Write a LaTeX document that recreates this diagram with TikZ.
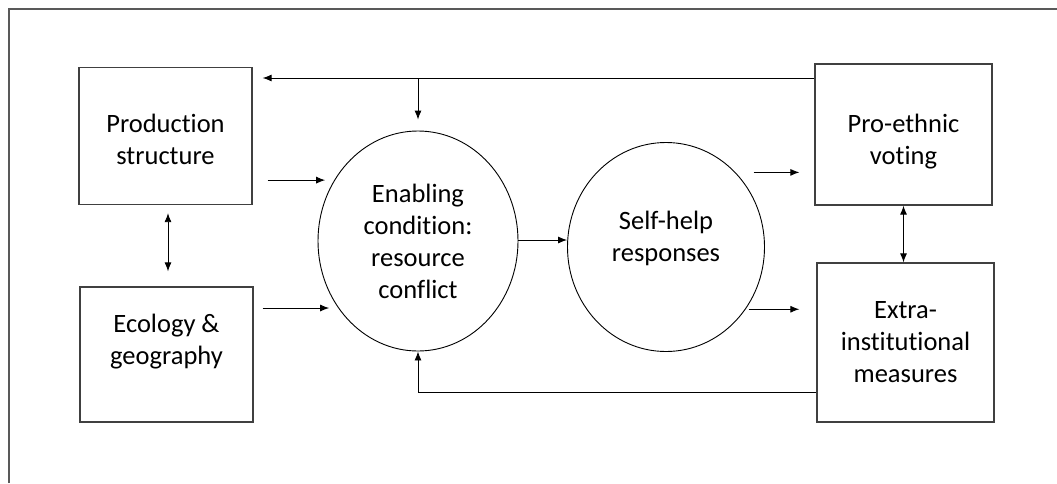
\documentclass[tikz,border=0pt]{standalone}
\usepackage{fontspec}
\setmainfont{Carlito}[Ligatures=NoCommon]
\usetikzlibrary{shapes.geometric,arrows.meta}
\tikzset{
  box/.style={draw=black!75, line width=1.3pt, rectangle, align=center, inner sep=0pt},
  oval/.style={draw=black, line width=0.9pt, ellipse, align=center, inner sep=0pt},
  txt/.style={align=center, font=\fontsize{26.5}{32}\selectfont},
  arr/.style={line width=0.9pt, -{Latex[length=9pt,width=7pt]}},
  darr/.style={line width=0.9pt, {Latex[length=9pt,width=7pt]}-{Latex[length=9pt,width=7pt]}},
}
\begin{document}
\begin{tikzpicture}[x=1pt,y=-1pt]
\useasboundingbox (0,0) rectangle (1057,483);
\draw[black!65, line width=1.5pt] (9,483) -- (9,9) -- (1057,9);

\node[box, minimum width=173pt, minimum height=137pt] (prod) at (165.5,136) {};
\node[txt] (prodt) at ([yshift=-3pt]prod.center) {Production\\structure};
\node[box, minimum width=173pt, minimum height=135pt] (eco) at (166.5,354.5) {};
\node[txt] (ecot) at ([yshift=13pt]eco.center) {Ecology \&\\geography};
\node[box, minimum width=177pt, minimum height=141pt] (pro) at (903.5,134.5) {};
\node[txt] (prot) at ([yshift=-7pt]pro.center) {Pro-ethnic\\voting};
\node[box, txt, minimum width=177pt, minimum height=159pt] (extra) at (905.5,342.5) {Extra-\\institutional\\measures};
\node[oval, txt, minimum width=200pt, minimum height=220pt] (e1) at (418,241) {Enabling\\condition:\\resource\\conflict};
\node[oval, minimum width=197pt, minimum height=209pt] (e2) at (666,247) {};
\node[txt] (e2t) at ([yshift=9pt]e2.center) {Self-help\\responses};

\coordinate (ty) at (0,78);
\coordinate (by) at (0,392);

% inputs to enabling condition
\draw[arr, shorten <=15pt, shorten >=9pt] (prod.east |- e1.144.5) -- (e1.144.5);
\draw[arr, shorten <=9pt, shorten >=9pt] (eco.east |- e1.220.9) -- (e1.220.9);
\draw[darr, shorten <=8pt, shorten >=15pt] ([xshift=2.5pt]prod.south) -- ([xshift=2.5pt]prod.south |- eco.north);

% enabling -> self-help
\draw[arr] (e1.east |- 0,240) -- (e2.west |- 0,240);

% self-help -> outcomes
\draw[arr, shorten <=18pt, shorten >=15pt] (e2.47.5) -- (pro.west |- e2.47.5);
\draw[arr, shorten <=3pt, shorten >=17pt] (e2.-38) -- (extra.west |- e2.-38);
\draw[darr] (pro.south) -- (pro.south |- extra.north);

% feedback top
\draw[arr, shorten >=10pt] (pro.west |- ty) -- (prod.east |- ty);
\draw[arr, shorten >=11pt] (e1.north |- ty) -- (e1.north);
% feedback bottom
\draw[arr] (extra.west |- by) -- (e1.south |- by) -- (e1.south);
\end{tikzpicture}
\end{document}
